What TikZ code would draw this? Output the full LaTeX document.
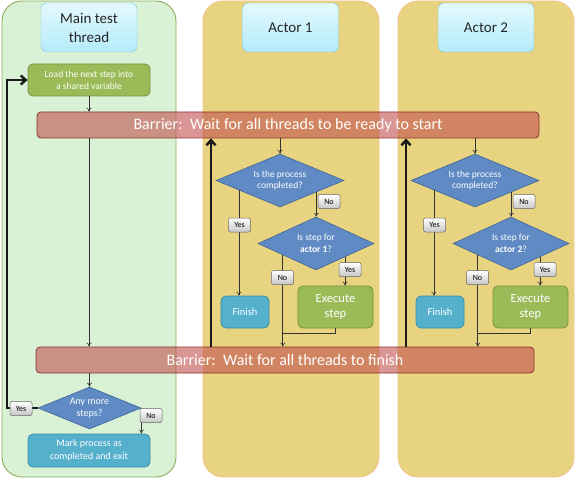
\documentclass[tikz,border=0pt]{standalone}
\usepackage{fontspec}
\setmainfont{Carlito}
\usetikzlibrary{shapes.geometric,arrows.meta,calc}
\definecolor{mainfill}{RGB}{217,242,213}
\definecolor{mainline}{RGB}{140,170,90}
\definecolor{actfill}{RGB}{232,212,128}
\definecolor{actline}{RGB}{244,196,142}
\definecolor{hdrtop}{RGB}{228,249,253}
\definecolor{hdrbot}{RGB}{180,235,250}
\definecolor{hdrline}{RGB}{120,195,220}
\definecolor{olivefill}{RGB}{155,187,89}
\definecolor{oliveline}{RGB}{118,146,62}
\definecolor{tealfill}{RGB}{85,176,204}
\definecolor{tealline}{RGB}{56,140,166}
\definecolor{decfill}{RGB}{95,138,196}
\definecolor{decline}{RGB}{60,100,150}
\definecolor{barfill}{RGB}{192,80,77}
\definecolor{barline}{RGB}{140,50,48}
\begin{document}
\begin{tikzpicture}[x=1pt,y=-1pt,
  col/.style={draw, rounded corners=20pt, line width=0.9pt, inner sep=0pt},
  hdr/.style={draw=hdrline, rounded corners=6pt, top color=hdrtop, bottom color=hdrbot,
    minimum width=96pt, minimum height=49pt, align=center, inner sep=0pt,
    font=\fontsize{15}{19}\selectfont, text=black!85},
  proc/.style={draw, rounded corners=5pt, text=white, align=center, inner sep=0pt, line width=0.8pt},
  greenbox/.style={proc, fill=olivefill, draw=oliveline},
  tealbox/.style={proc, fill=tealfill, draw=tealline},
  dec/.style={diamond, draw=decline, fill=decfill, text=white, align=center, inner sep=0pt,
    line width=0.6pt, font=\fontsize{9.5}{11.5}\selectfont},
  barrier/.style={draw=barline, fill=barfill, fill opacity=0.6, text opacity=1, text=white,
    rounded corners=4pt, font=\fontsize{16}{18}\selectfont, inner sep=0pt, line width=0.8pt},
  lbl/.style={draw=black!60, rounded corners=2pt, top color=white, bottom color=black!22,
    font=\fontsize{8}{9}\selectfont, inner sep=0pt, minimum width=22pt, minimum height=14pt, line width=0.5pt},
  arr/.style={-{To[length=4pt,width=5pt]}, line width=0.6pt, draw=black!80},
  ln/.style={line width=0.6pt, draw=black!80},
  big/.style={-{Straight Barb[length=5pt,width=9pt]}, line width=2.5pt, draw=black!90}
]
\useasboundingbox (0,0) rectangle (577,481);
% columns
\node[col, fill=mainfill, draw=mainline, minimum width=174pt, minimum height=476pt] (cm) at (89,239) {};
\node[col, fill=actfill, draw=actline, minimum width=176pt, minimum height=476pt] (ca1) at (291,239) {};
\node[col, fill=actfill, draw=actline, minimum width=176pt, minimum height=476pt] (ca2) at (486,239) {};
% headers
\node[hdr] (hm) at (89,27.5) {Main test\\thread};
\node[hdr] (ha1) at (290.5,27.5) {Actor 1};
\node[hdr] (ha2) at (486,27.5) {Actor 2};
% main column
\node[greenbox, minimum width=122pt, minimum height=32pt, font=\fontsize{9.5}{12}\selectfont] (load) at (89,80) {Load the next step into\\a shared variable};
\node[barrier, minimum width=502pt, minimum height=26pt] (bar1) at (288,125) {Barrier:\, Wait for all threads to be ready to start};
\node[barrier, minimum width=498pt, minimum height=26pt] (bar2) at (285,360) {Barrier:\, Wait for all threads to finish};
\node[dec, minimum width=103pt, minimum height=42pt, aspect=2.4, font=\fontsize{10}{12}\selectfont] (md) at (89.5,408) {Any more\\steps?};
\node[tealbox, minimum width=122pt, minimum height=33pt, font=\fontsize{10}{13}\selectfont] (mark) at (89,450.5) {Mark process as\\completed and exit};
\coordinate (lp) at (7,408);
\draw[arr] (load.south) -- (load.south |- bar1.north);
\draw[arr] (load.south |- bar1.south) -- (load.south |- bar2.north);
\draw[arr] (md.north |- bar2.south) -- (md.north);
\draw[big] (md.west) -- (lp) |- (load.west);
\draw[arr] (md.east) -- (md.east |- mark.north);
\node[lbl] (ym) at (21,408.5) {Yes};
\node[lbl] (nm) at (151,415.5) {No};
% actors
\foreach \i/\dx in {1/0,2/195}{
\begin{scope}[xshift=\dx pt]
\node[dec, minimum width=128pt, minimum height=53pt, aspect=2.4] (da\i) at (280,180.5) {Is the process\\completed?};
\node[dec, minimum width=116pt, minimum height=53pt, aspect=2.2] (db\i) at (316,243.5) {Is step for\\\textbf{actor \i}?};
\node[tealbox, minimum width=48pt, minimum height=32pt, font=\fontsize{10.5}{12}\selectfont] (fin\i) at (245,312) {Finish};
\node[greenbox, minimum width=75pt, minimum height=42pt, font=\fontsize{12.5}{15.5}\selectfont] (ex\i) at (335.5,307) {Execute\\step};
\coordinate (y\i) at ($(da\i.west)!0.36!(da\i.south)$);
\coordinate (n\i) at ($(da\i.south)!0.5625!(da\i.east)$);
\coordinate (nb\i) at ($(db\i.west)!0.43!(db\i.south)$);
\coordinate (yb\i) at ($(db\i.south)!0.5!(db\i.east)$);
\coordinate (tk\i) at (211,0);
\coordinate (jn\i) at ($(nb\i |- ex\i.south)+(0,5)$);
\draw[arr] (da\i.north |- bar1.south) -- (da\i.north);
\draw[arr] (y\i) -- (y\i |- fin\i.north);
\draw[arr] (n\i) -- (n\i |- db\i.north);
\draw[arr] (nb\i) -- (nb\i |- bar2.north);
\draw[arr] (yb\i) -- (yb\i |- ex\i.north);
\draw[ln] (ex\i.south) -- (ex\i.south |- jn\i) -- (jn\i);
\draw[big] (tk\i |- bar2.north) -- (tk\i |- bar1.south);
\node[lbl] (ly\i) at (239.5,225) {Yes};
\node[lbl] (ln\i) at (329,201.5) {No};
\node[lbl] (lnb\i) at (282.5,277.5) {No};
\node[lbl] (lyb\i) at (350,269.5) {Yes};
\end{scope}
}
\end{tikzpicture}
\end{document}
